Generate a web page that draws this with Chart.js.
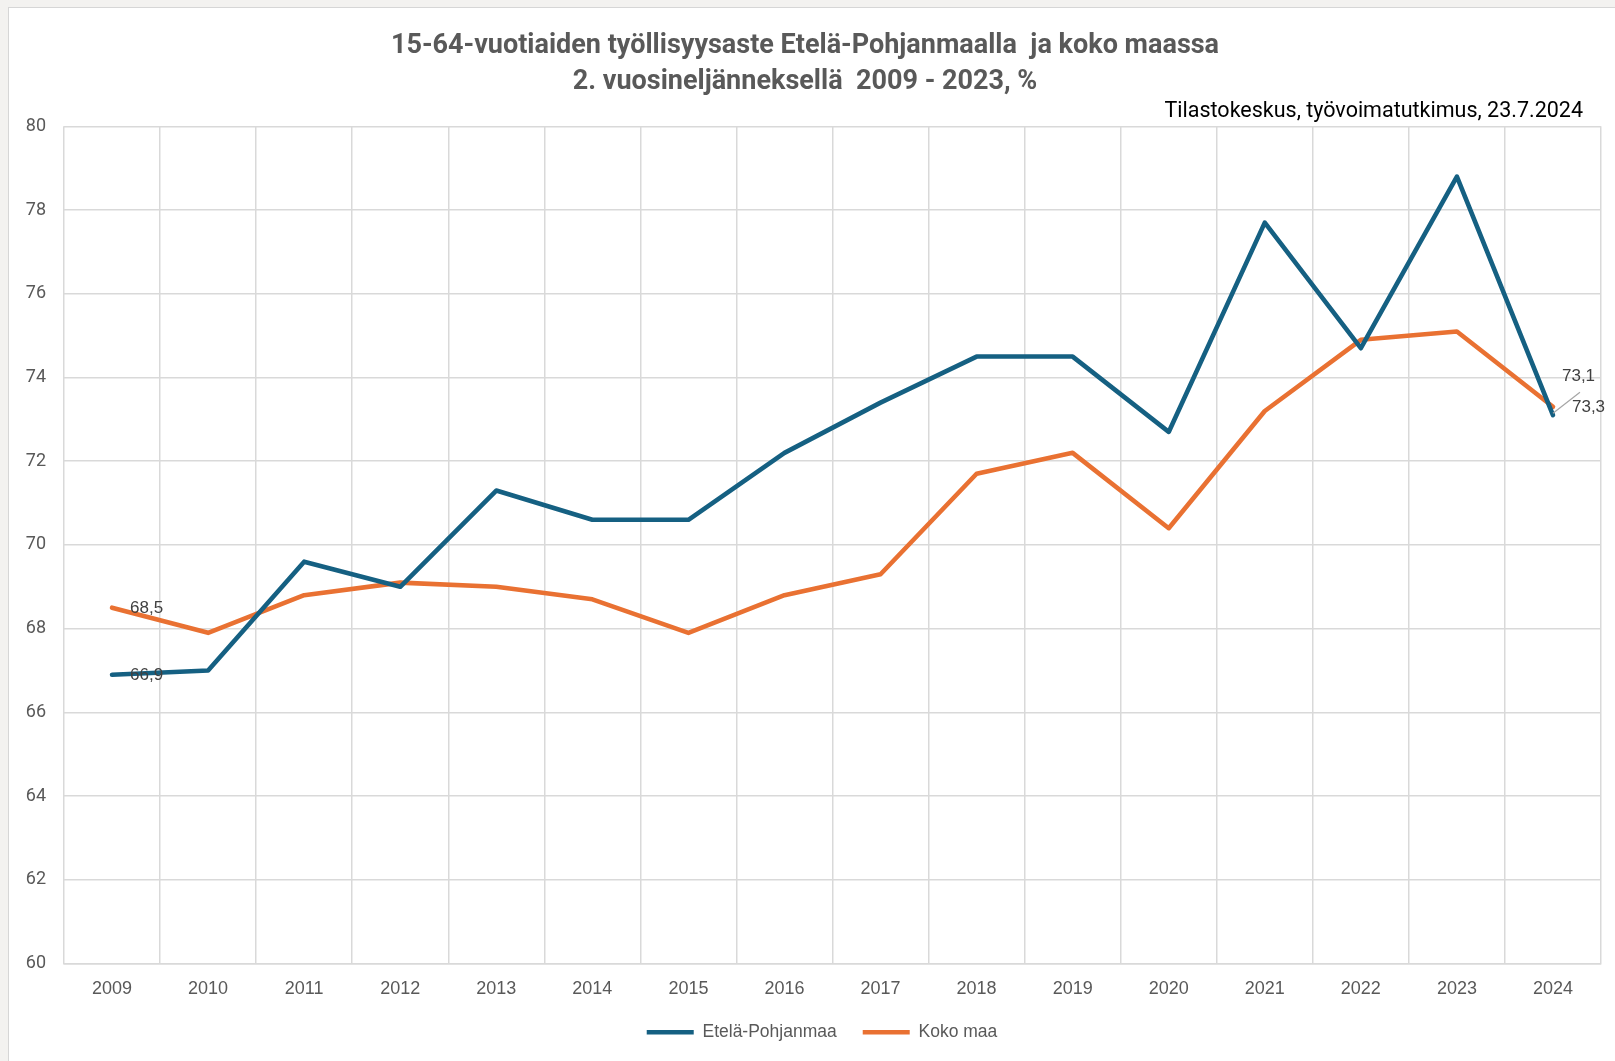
<!DOCTYPE html>
<html>
<head>
<meta charset="utf-8">
<script src="https://cdn.jsdelivr.net/npm/chart.js@4/dist/chart.umd.min.js"></script>
<style>
  html, body { margin: 0; padding: 0; background: #f3f2f0; width: 1615px; height: 1061px; overflow: hidden; }
  #box { position: absolute; left: 8px; top: 7px; width: 1607px; height: 1054px; background: #fff;
         border-left: 1px solid #d6d6d6; border-top: 1px solid #d6d6d6; }
  canvas { display: block; }
</style>
</head>
<body>
<div id="box"><canvas id="c" width="1606" height="1053"></canvas></div>
<script>
const years = ['2009','2010','2011','2012','2013','2014','2015','2016','2017','2018','2019','2020','2021','2022','2023','2024'];
const etelaPohjanmaa = [66.9, 67.0, 69.6, 69.0, 71.3, 70.6, 70.6, 72.2, 73.4, 74.5, 74.5, 72.7, 77.7, 74.7, 78.8, 73.1];
const kokoMaa = [68.5, 67.9, 68.8, 69.1, 69.0, 68.7, 67.9, 68.8, 69.3, 71.7, 72.2, 70.4, 73.2, 74.9, 75.1, 73.3];
const titleLines = ['15-64-vuotiaiden työllisyysaste Etelä-Pohjanmaalla  ja koko maassa', '2. vuosineljänneksellä  2009 - 2023, %'];
const sourceText = 'Tilastokeskus, työvoimatutkimus, 23.7.2024';
const yMin = 60, yMax = 80, yStep = 2;

const NARROW = "'Liberation Sans Narrow', 'Roboto', sans-serif";
const REG = "'Liberation Sans', 'Noto Sans', sans-serif";

const fmt = v => v.toFixed(1).replace('.', ',');

const extras = {
  id: 'extras',
  afterLayout(chart) {
    if (chart.legend) { chart.legend.left += 17; chart.legend.right += 17; }
  },
  afterDraw(chart) {
    const ctx = chart.ctx;
    const area = chart.chartArea;
    ctx.save();
    // source subtitle
    ctx.font = "21.5px " + NARROW;
    ctx.fillStyle = '#000000';
    ctx.textAlign = 'right';
    ctx.textBaseline = 'middle';
    ctx.fillText(sourceText, area.right - 18, area.top - 15);

    // data labels
    ctx.font = "17px " + REG;
    ctx.fillStyle = '#404040';
    ctx.textAlign = 'left';
    const m0 = chart.getDatasetMeta(0).data;
    const m1 = chart.getDatasetMeta(1).data;
    ctx.fillText(fmt(kokoMaa[0]), m1[0].x + 18, m1[0].y + 1);
    ctx.fillText(fmt(etelaPohjanmaa[0]), m0[0].x + 18, m0[0].y + 1);
    const n = years.length - 1;
    const pE = m0[n], pK = m1[n];
    ctx.strokeStyle = '#a6a6a6';
    ctx.lineWidth = 1.2;
    ctx.beginPath();
    ctx.moveTo(pE.x, pE.y - 2);
    ctx.lineTo(pE.x + 27, pE.y - 23);
    ctx.stroke();
    ctx.fillText(fmt(etelaPohjanmaa[n]), pE.x + 9, pE.y - 39);
    ctx.fillText(fmt(kokoMaa[n]), pK.x + 19, pK.y + 1);
    ctx.restore();
  }
};

new Chart(document.getElementById('c'), {
  type: 'line',
  data: {
    labels: years,
    datasets: [
      { label: 'Etelä-Pohjanmaa', data: etelaPohjanmaa, borderColor: '#156082', backgroundColor: '#156082',
        borderWidth: 4.6, pointRadius: 0, tension: 0, borderCapStyle: 'round', borderJoinStyle: 'round' },
      { label: 'Koko maa', data: kokoMaa, borderColor: '#E97132', backgroundColor: '#E97132',
        borderWidth: 4.6, pointRadius: 0, tension: 0, borderCapStyle: 'round', borderJoinStyle: 'round' }
    ]
  },
  options: {
    responsive: false,
    animation: false,
    devicePixelRatio: 1,
    layout: { padding: { left: 0, right: 14, top: 0, bottom: 10 } },
    plugins: {
      title: {
        display: true,
        text: titleLines,
        color: '#595959',
        font: { family: NARROW, size: 27, weight: 'bold', lineHeight: 1.34 },
        padding: { top: 20, bottom: 26 }
      },
      legend: {
        position: 'bottom',
        labels: {
          usePointStyle: true,
          pointStyle: 'line',
          pointStyleWidth: 47,
          color: '#595959',
          font: { family: REG, size: 17.5 },
          padding: 26
        }
      },
      tooltip: { enabled: false }
    },
    scales: {
      x: {
        offset: true,
        grid: { offset: true, color: '#d9d9d9', lineWidth: 1.5, drawTicks: false },
        border: { color: '#d9d9d9', width: 1.5 },
        ticks: { color: '#595959', font: { family: REG, size: 18 }, padding: 15, maxRotation: 0 },
        afterFit(s) { s.height = 34; }
      },
      y: {
        min: yMin, max: yMax,
        grid: { color: '#d9d9d9', lineWidth: 1.5, drawTicks: false },
        border: { display: false },
        ticks: { stepSize: yStep, color: '#595959', font: { family: NARROW, size: 18 }, padding: 18 },
        afterFit(s) { s.width = 55; }
      }
    }
  },
  plugins: [extras]
});
</script>
</body>
</html>
